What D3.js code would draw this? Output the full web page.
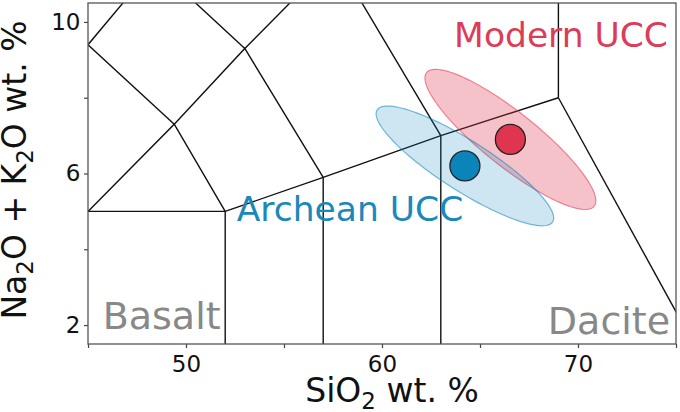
<!DOCTYPE html>
<html>
<head>
<meta charset="utf-8">
<script src="https://cdn.jsdelivr.net/npm/d3@7"></script>
<style>
  body { margin: 0; background: #fff; }
  svg { display: block; font-family: "DejaVu Sans", sans-serif; }
</style>
</head>
<body>
<div id="chart"></div>
<script>
const width = 680, height = 412;
const margin = {top: 3, right: 4, bottom: 68, left: 88};
const innerWidth = width - margin.left - margin.right;
const innerHeight = height - margin.top - margin.bottom;

// Axis domains and ticks
const xDomain = [45, 75];
const yDomain = [1.5, 10.5];
const xTicks = [45, 50, 55, 60, 65, 70, 75];
const xTickLabels = [50, 60, 70];
const yTicks = [2, 4, 6, 8, 10];
const yTickLabels = [2, 6, 10];

// TAS field boundaries as [SiO2, Na2O+K2O] vertices
const tasLines = [
  [[45, 5], [52, 5], [57, 5.9], [63, 7], [69, 8]],
  [[52, 0], [52, 5]],
  [[57, 0], [57, 5.9]],
  [[63, 0], [63, 7]],
  [[69, 8], [77.5, 0]],
  [[69, 8], [69, 13]],
  [[45, 5], [49.4, 7.3], [52, 5]],
  [[49.4, 7.3], [53, 9.3], [57, 5.9]],
  [[53, 9.3], [57.6, 11.7], [63, 7]],
  [[45, 9.4], [49.4, 7.3]],
  [[45, 9.4], [48.4, 11.5], [53, 9.3]]
];

// Crust compositions: mean point + spread ellipse
const crustNames = ["Modern UCC", "Archean UCC"];
const meanSiO2 = [66.55, 64.23];
const meanAlk = [6.9, 6.2];
const spreadSiO2 = [4.36, 4.53];
const spreadAlk = [1.85, 1.58];
const spreadCorr = [-0.875, -0.871];
const crustColors = ["#e0354f", "#0b84b9"];

const svg = d3.select("#chart")
  .append("svg")
  .attr("width", width)
  .attr("height", height);

const inner = svg.append("g")
  .attr("transform", `translate(${margin.left}, ${margin.top})`);

const x = d3.scaleLinear().domain(xDomain).range([0, innerWidth]);
const y = d3.scaleLinear().domain(yDomain).range([innerHeight, 0]);

svg.append("defs").append("clipPath")
  .attr("id", "plot-clip")
  .append("rect")
  .attr("width", innerWidth)
  .attr("height", innerHeight);

const plot = inner.append("g").attr("clip-path", "url(#plot-clip)");

// TAS grid
const line = d3.line().x(d => x(d[0])).y(d => y(d[1]));
plot.selectAll("path.tas")
  .data(tasLines)
  .join("path")
    .attr("class", "tas")
    .attr("d", line)
    .attr("fill", "none")
    .attr("stroke", "#111")
    .attr("stroke-width", 1.4);

// ellipses from spread + correlation (cholesky of covariance)
const angles = d3.range(0, 361, 3).map(a => a * Math.PI / 180);
const ellipsePts = i => angles.map(t => {
  const sx = spreadSiO2[i], sy = spreadAlk[i], r = spreadCorr[i];
  const u = Math.cos(t), v = Math.sin(t);
  return [meanSiO2[i] + sx * u, meanAlk[i] + sy * (r * u + Math.sqrt(1 - r * r) * v)];
});

const fillOpacity = [0.3, 0.2];
plot.selectAll("path.ellipse")
  .data(crustNames)
  .join("path")
    .attr("class", "ellipse")
    .attr("d", (d, i) => line(ellipsePts(i)) + "Z")
    .attr("fill", (d, i) => crustColors[i])
    .attr("fill-opacity", (d, i) => fillOpacity[i])
    .attr("stroke", (d, i) => crustColors[i])
    .attr("stroke-opacity", 0.55)
    .attr("stroke-width", 1.2);

plot.selectAll("circle.mean")
  .data(crustNames)
  .join("circle")
    .attr("class", "mean")
    .attr("cx", (d, i) => x(meanSiO2[i]))
    .attr("cy", (d, i) => y(meanAlk[i]))
    .attr("r", 15)
    .attr("fill", (d, i) => crustColors[i])
    .attr("stroke", "#222")
    .attr("stroke-width", 1.3);

// Annotations
inner.append("text")
  .attr("x", x(74.59)).attr("y", y(9.346))
  .attr("text-anchor", "end")
  .attr("font-size", 34.5)
  .attr("fill", "#dc3c58")
  .text("Modern UCC");

inner.append("text")
  .attr("x", x(52.59)).attr("y", y(4.75))
  .attr("font-size", 34.5)
  .attr("fill", "#1b88ba")
  .text("Archean UCC");

inner.append("text")
  .attr("x", x(45.75)).attr("y", y(1.9))
  .attr("font-size", 38)
  .attr("fill", "#888")
  .text("Basalt");

inner.append("text")
  .attr("x", x(74.7)).attr("y", y(1.765))
  .attr("text-anchor", "end")
  .attr("font-size", 38)
  .attr("fill", "#888")
  .text("Dacite");

// Axes
const bottomAxis = d3.axisBottom(x)
  .tickValues(xTicks)
  .tickFormat(d => xTickLabels.includes(d) ? d : "")
  .tickSize(4).tickPadding(7.5).tickSizeOuter(0);
const leftAxis = d3.axisLeft(y)
  .tickValues(yTicks)
  .tickFormat(d => yTickLabels.includes(d) ? d : "")
  .tickSize(4).tickPadding(3.5).tickSizeOuter(0);

const gx = inner.append("g")
  .attr("transform", `translate(0, ${innerHeight})`)
  .call(bottomAxis);
const gy = inner.append("g").call(leftAxis);

[gx, gy].forEach(g => {
  g.select(".domain").remove();
  g.selectAll("line").attr("stroke", "#444").attr("stroke-width", 1.2);
  g.selectAll("text")
    .attr("font-family", "DejaVu Sans")
    .attr("font-size", 23)
    .attr("fill", "#111");
  // unlabeled minor ticks: drop the empty text nodes
  g.selectAll("text").filter(function() { return this.textContent === ""; }).remove();
});

inner.append("rect")
  .attr("width", innerWidth)
  .attr("height", innerHeight)
  .attr("fill", "none")
  .attr("stroke", "#555")
  .attr("stroke-width", 1.3);

// Axis labels with subscripts
const xLabel = svg.append("text")
  .attr("x", 392).attr("y", 402)
  .attr("text-anchor", "middle")
  .attr("font-size", 33)
  .attr("fill", "#111");
xLabel.append("tspan").text("SiO");
xLabel.append("tspan").attr("dy", 7).attr("font-size", 23).text("2");
xLabel.append("tspan").attr("dy", -7).text(" wt. %");

const yLabel = svg.append("text")
  .attr("transform", `translate(26, 170) rotate(-90)`)
  .attr("text-anchor", "middle")
  .attr("font-size", 33)
  .attr("fill", "#111");
yLabel.append("tspan").text("Na");
yLabel.append("tspan").attr("dy", 7).attr("font-size", 23).text("2");
yLabel.append("tspan").attr("dy", -7).text("O + K");
yLabel.append("tspan").attr("dy", 7).attr("font-size", 23).text("2");
yLabel.append("tspan").attr("dy", -7).text("O wt. %");
</script>
</body>
</html>
